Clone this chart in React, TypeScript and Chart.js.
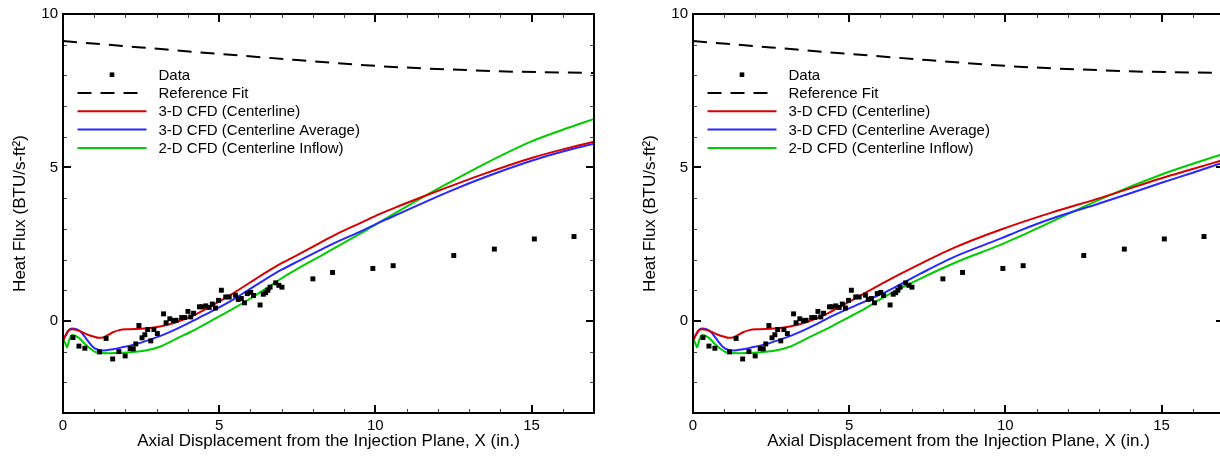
import React, { useEffect, useRef } from "react";
import { Chart, registerables } from "chart.js";

Chart.register(...registerables);

// ---------- Data ----------
const xTickLabels = [0, 5, 10, 15];
const yTickLabels = [0, 5, 10];

const dataX = [0.32, 0.51, 0.70, 1.17, 1.38, 1.59, 1.79, 1.99, 2.15, 2.25, 2.33, 2.43, 2.53, 2.62, 2.71, 2.81, 2.91, 3.02, 3.22, 3.30, 3.42, 3.54, 3.62, 3.80, 3.90, 4.00, 4.09, 4.18, 4.37, 4.45, 4.57, 4.68, 4.78, 4.88, 4.98, 5.07, 5.21, 5.32, 5.52, 5.61, 5.71, 5.81, 5.90, 6.01, 6.10, 6.31, 6.41, 6.49, 6.56, 6.63, 6.81, 6.91, 7.01, 8.00, 8.63, 9.92, 10.57, 12.51, 13.81, 15.09, 16.36];
const dataY = [-0.54, -0.82, -0.89, -1.01, -0.57, -1.24, -1.00, -1.14, -0.90, -0.91, -0.75, -0.15, -0.55, -0.45, -0.28, -0.65, -0.28, -0.41, 0.23, -0.06, 0.07, 0.01, 0.02, 0.11, 0.11, 0.31, 0.13, 0.25, 0.46, 0.46, 0.49, 0.44, 0.55, 0.42, 0.67, 1.00, 0.78, 0.78, 0.84, 0.70, 0.73, 0.59, 0.89, 0.93, 0.83, 0.52, 0.87, 0.92, 1.00, 1.10, 1.24, 1.16, 1.10, 1.37, 1.58, 1.71, 1.80, 2.13, 2.34, 2.67, 2.75];

const refX = [0, 2.5, 5, 7.5, 10, 11.5, 13, 14.5, 17];
const refY = [9.12, 8.91, 8.70, 8.50, 8.31, 8.23, 8.17, 8.12, 8.08];

// Left panel CFD curves
const leftRedX = [0, 0.08, 0.18, 0.29, 0.45, 0.62, 0.8, 0.98, 1.14, 1.28, 1.42, 1.6, 1.8, 2.1, 2.6, 3.1, 3.6, 4.2, 4.7, 5.35, 6.0, 6.5, 7.0, 7.6, 8.2, 8.8, 9.5, 10.15, 10.8, 11.45, 12.3, 13.5, 15.0, 16.0, 17.0];
const leftRedY = [-0.63, -0.48, -0.32, -0.27, -0.30, -0.37, -0.45, -0.51, -0.55, -0.54, -0.47, -0.37, -0.30, -0.27, -0.25, -0.18, -0.05, 0.19, 0.46, 0.84, 1.26, 1.58, 1.88, 2.20, 2.53, 2.85, 3.18, 3.49, 3.76, 4.02, 4.35, 4.80, 5.31, 5.59, 5.84];

const leftBlueX = [0, 0.08, 0.18, 0.29, 0.45, 0.58, 0.7, 0.8, 0.95, 1.1, 1.3, 1.6, 1.85, 2.4, 2.9, 3.45, 4.0, 4.5, 5.0, 5.5, 6.0, 6.5, 7.0, 7.6, 8.2, 8.7, 9.6, 10.15, 10.8, 11.5, 12.3, 13.5, 15.0, 16.0, 17.0];
const leftBlueY = [-0.65, -0.47, -0.30, -0.25, -0.28, -0.37, -0.52, -0.66, -0.84, -0.93, -0.96, -0.92, -0.87, -0.74, -0.57, -0.35, -0.08, 0.18, 0.44, 0.73, 1.05, 1.37, 1.67, 1.98, 2.29, 2.54, 2.95, 3.22, 3.51, 3.83, 4.19, 4.68, 5.22, 5.52, 5.77];

const leftGreenX = [0, 0.07, 0.13, 0.2, 0.29, 0.42, 0.55, 0.7, 0.87, 1.0, 1.14, 1.5, 1.85, 2.6, 3.1, 3.65, 4.2, 4.7, 5.35, 6.0, 6.5, 7.0, 7.6, 8.2, 8.7, 9.7, 10.2, 10.8, 11.45, 12.3, 13.5, 15.0, 16.0, 17.0];
const leftGreenY = [-0.57, -0.72, -0.86, -0.62, -0.46, -0.50, -0.59, -0.75, -0.90, -0.99, -1.04, -1.05, -1.04, -0.97, -0.84, -0.57, -0.30, -0.02, 0.34, 0.73, 1.06, 1.39, 1.75, 2.09, 2.38, 2.95, 3.25, 3.61, 3.99, 4.47, 5.12, 5.85, 6.23, 6.58];

// Right panel CFD curves
const rightRedX = [0, 0.08, 0.18, 0.29, 0.45, 0.62, 0.8, 0.98, 1.14, 1.28, 1.42, 1.6, 1.8, 2.1, 2.6, 3.1, 3.6, 4.2, 4.7, 5.35, 6.2, 7.28, 8.35, 9.84, 11.45, 13.05, 15.0, 16.0, 17.0];
const rightRedY = [-0.63, -0.48, -0.32, -0.27, -0.30, -0.37, -0.45, -0.51, -0.55, -0.54, -0.47, -0.37, -0.30, -0.27, -0.25, -0.18, -0.05, 0.19, 0.46, 0.82, 1.30, 1.86, 2.38, 2.97, 3.52, 4.01, 4.65, 4.95, 5.25];

const rightBlueX = [0, 0.08, 0.18, 0.29, 0.45, 0.58, 0.7, 0.8, 0.95, 1.1, 1.3, 1.6, 1.85, 2.4, 2.9, 3.45, 4.0, 4.5, 5.36, 6.21, 7.28, 8.35, 9.84, 10.48, 11.45, 13.05, 15.0, 16.0, 17.0];
const rightBlueY = [-0.65, -0.47, -0.30, -0.25, -0.28, -0.37, -0.52, -0.66, -0.84, -0.93, -0.96, -0.92, -0.87, -0.74, -0.57, -0.35, -0.08, 0.18, 0.57, 0.96, 1.54, 2.08, 2.68, 2.95, 3.32, 3.84, 4.50, 4.83, 5.17];

const rightGreenX = [0, 0.07, 0.13, 0.2, 0.29, 0.42, 0.55, 0.7, 0.87, 1.0, 1.14, 1.5, 1.85, 2.6, 3.1, 3.65, 4.2, 4.72, 5.36, 6.21, 7.28, 8.35, 9.84, 10.48, 11.45, 13.05, 15.0, 16.0, 17.0];
const rightGreenY = [-0.57, -0.72, -0.86, -0.62, -0.46, -0.50, -0.59, -0.75, -0.90, -0.99, -1.04, -1.05, -1.04, -0.97, -0.84, -0.57, -0.30, -0.02, 0.32, 0.83, 1.38, 1.88, 2.48, 2.76, 3.22, 3.97, 4.77, 5.12, 5.45];

const legendLabels = ["Data", "Reference Fit", "3-D CFD (Centerline)", "3-D CFD (Centerline Average)", "2-D CFD (Centerline Inflow)"];

// ---------- Helpers ----------
const FONT = "'Liberation Sans', Arial, sans-serif";
const zip = (xs: number[], ys: number[]) => xs.map((x, i) => ({ x, y: ys[i] }));

const framePlugin = {
  id: "frameTicksLegend",
  afterDatasetsDraw(chart: any) {
    const { ctx, chartArea, scales } = chart;
    const { left, right, top, bottom } = chartArea;
    const xs = scales.x;
    const ys = scales.y;
    ctx.save();
    // minor ticks
    ctx.strokeStyle = "#444";
    ctx.lineWidth = 1;
    ctx.beginPath();
    for (let v = Math.ceil(xs.min); v <= xs.max; v++) {
      const px = Math.round(xs.getPixelForValue(v)) + 0.5;
      ctx.moveTo(px, bottom); ctx.lineTo(px, bottom - 4);
      ctx.moveTo(px, top); ctx.lineTo(px, top + 4);
    }
    for (let v = Math.ceil(ys.min); v <= ys.max; v++) {
      const py = Math.round(ys.getPixelForValue(v)) + 0.5;
      ctx.moveTo(left, py); ctx.lineTo(left + 4, py);
      ctx.moveTo(right, py); ctx.lineTo(right - 4, py);
    }
    ctx.stroke();
    // major ticks
    ctx.strokeStyle = "#000";
    ctx.lineWidth = 2;
    ctx.beginPath();
    xTickLabels.forEach((v) => {
      const px = Math.round(xs.getPixelForValue(v));
      ctx.moveTo(px, bottom); ctx.lineTo(px, bottom - 8);
      ctx.moveTo(px, top); ctx.lineTo(px, top + 8);
    });
    yTickLabels.forEach((v) => {
      const py = Math.round(ys.getPixelForValue(v));
      ctx.moveTo(left, py); ctx.lineTo(left + 8, py);
      ctx.moveTo(right, py); ctx.lineTo(right - 8, py);
    });
    ctx.stroke();
    // frame
    ctx.lineWidth = 2;
    ctx.strokeRect(left, top, right - left, bottom - top);

    // legend
    const lx0 = left + 14.5;
    const lx1 = left + 83.5;
    const tx = left + 95.5;
    const ty0 = top + 60.7;
    const step = 18.3;
    ctx.font = `15px ${FONT}`;
    ctx.textBaseline = "middle";
    ctx.textAlign = "left";
    chart.data.datasets.forEach((ds: any, i: number) => {
      const y = ty0 + i * step;
      if (ds.showLine === false) {
        ctx.fillStyle = ds.backgroundColor;
        const s = 4.6;
        ctx.fillRect((lx0 + lx1) / 2 - s / 2, y - s / 2, s, s);
      } else {
        ctx.strokeStyle = ds.borderColor;
        ctx.lineWidth = ds.borderWidth;
        ctx.setLineDash(ds.borderDash || []);
        ctx.beginPath();
        ctx.moveTo(lx0, y);
        ctx.lineTo(lx1, y);
        ctx.stroke();
        ctx.setLineDash([]);
      }
      ctx.fillStyle = "#000";
      ctx.fillText(ds.label, tx, y + 1);
    });
    ctx.restore();
  },
};

type Series = { x: number[]; y: number[] };

function Panel({ red, blue, green }: { red: Series; blue: Series; green: Series }) {
  const ref = useRef<HTMLCanvasElement | null>(null);
  useEffect(() => {
    if (!ref.current) return;
    const lineDs = (label: string, s: Series, color: string) => ({
      label,
      data: zip(s.x, s.y),
      showLine: true,
      borderColor: color,
      backgroundColor: color,
      borderWidth: 2,
      pointRadius: 0,
      cubicInterpolationMode: "monotone" as const,
      fill: false,
    });
    const chart = new Chart(ref.current, {
      type: "scatter",
      data: {
        datasets: [
          {
            label: legendLabels[0],
            data: zip(dataX, dataY),
            showLine: false,
            pointStyle: "rect",
            pointRadius: 3.5,
            borderWidth: 0,
            backgroundColor: "#000",
            borderColor: "#000",
          } as any,
          {
            label: legendLabels[1],
            data: zip(refX, refY),
            showLine: true,
            borderColor: "#000",
            backgroundColor: "#000",
            borderWidth: 2,
            borderDash: [14, 9],
            pointRadius: 0,
            cubicInterpolationMode: "monotone",
          } as any,
          lineDs(legendLabels[2], red, "rgb(215,0,0)"),
          lineDs(legendLabels[3], blue, "rgb(40,40,255)"),
          lineDs(legendLabels[4], green, "rgb(0,205,0)"),
        ],
      },
      options: {
        responsive: false,
        animation: false,
        events: [],
        layout: { padding: { top: 13, right: 36, left: 0, bottom: 0 } },
        plugins: { legend: { display: false }, tooltip: { enabled: false } },
        scales: {
          x: {
            type: "linear",
            min: 0,
            max: 17,
            grid: { display: false, drawTicks: false },
            border: { display: false },
            afterBuildTicks: (s: any) => {
              s.ticks = xTickLabels.map((v) => ({ value: v }));
            },
            afterFit: (s: any) => {
              s.height = 43;
            },
            ticks: { color: "#000", font: { family: FONT, size: 15 }, padding: 4, maxRotation: 0, autoSkip: false },
            title: {
              display: true,
              text: "Axial Displacement from the Injection Plane, X (in.)",
              color: "#000",
              font: { family: FONT, size: 17 },
              padding: { top: 0, bottom: 4 },
            },
          },
          y: {
            type: "linear",
            min: -3,
            max: 10,
            grid: { display: false, drawTicks: false },
            border: { display: false },
            afterBuildTicks: (s: any) => {
              s.ticks = yTickLabels.map((v) => ({ value: v }));
            },
            afterFit: (s: any) => {
              s.width = 63;
            },
            ticks: { color: "#000", font: { family: FONT, size: 15 }, padding: 5 },
            title: {
              display: true,
              text: "Heat Flux (BTU/s-ft²)",
              color: "#000",
              font: { family: FONT, size: 17 },
              padding: { top: 10, bottom: 0 },
            },
          },
        },
      } as any,
      plugins: [framePlugin],
    });
    return () => chart.destroy();
  }, [red, blue, green]);
  return <canvas ref={ref} width={630} height={456} style={{ display: "block", width: 630, height: 456 }} />;
}

const leftSeries = {
  red: { x: leftRedX, y: leftRedY },
  blue: { x: leftBlueX, y: leftBlueY },
  green: { x: leftGreenX, y: leftGreenY },
};
const rightSeries = {
  red: { x: rightRedX, y: rightRedY },
  blue: { x: rightBlueX, y: rightBlueY },
  green: { x: rightGreenX, y: rightGreenY },
};

export default function App() {
  return (
    <div style={{ position: "fixed", left: 0, top: 0, width: 1220, height: 456, overflow: "hidden", background: "#fff" }}>
      <div style={{ position: "absolute", left: 0, top: 0, width: 630, height: 456 }}>
        <Panel {...leftSeries} />
      </div>
      <div style={{ position: "absolute", left: 630, top: 0, width: 630, height: 456 }}>
        <Panel {...rightSeries} />
      </div>
    </div>
  );
}
